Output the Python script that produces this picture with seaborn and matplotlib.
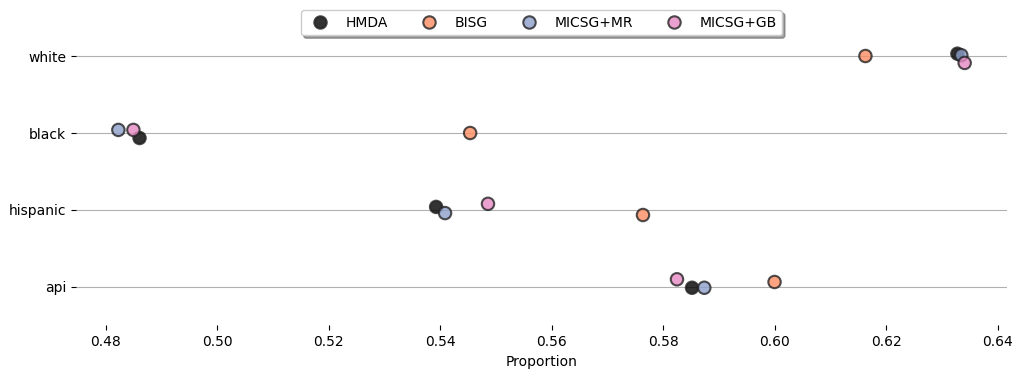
"""Estimated race/ethnicity proportions by method."""

import matplotlib.pyplot as plt
import pandas as pd
import seaborn as sns

races = ["white", "black", "hispanic", "api"]
methods = ["HMDA", "BISG", "MICSG+MR", "MICSG+GB"]

# proportion per race, in the order of `methods`
white_vals = [0.6328, 0.6163, 0.6335, 0.6341]
black_vals = [0.4861, 0.5454, 0.4823, 0.4850]
hispanic_vals = [0.5393, 0.5764, 0.5409, 0.5486]
api_vals = [0.5852, 0.6000, 0.5874, 0.5825]

# vertical jitter (category units)
white_jitter = [-0.03, 0.0, -0.01, 0.09]
black_jitter = [0.065, 0.0, -0.04, -0.04]
hispanic_jitter = [-0.04, 0.065, 0.04, -0.08]
api_jitter = [0.01, -0.065, 0.01, -0.10]

palette = {
    "HMDA": "black",
    "BISG": "#fc8d62",
    "MICSG+MR": "#8da0cb",
    "MICSG+GB": "#e78ac3",
}

rows = []
for race, vals, jit in zip(
    races,
    [white_vals, black_vals, hispanic_vals, api_vals],
    [white_jitter, black_jitter, hispanic_jitter, api_jitter],
):
    for method, v, j in zip(methods, vals, jit):
        rows.append({"race": race, "method": method, "proportion": v, "jitter": j})
df = pd.DataFrame(rows)
df["ypos"] = df["race"].map({r: i for i, r in enumerate(races)}) + df["jitter"]

fig, ax = plt.subplots(figsize=(10.22, 3.79), dpi=100)
fig.subplots_adjust(left=0.0744, right=0.9853, top=0.9538, bottom=0.1412)

sns.scatterplot(
    data=df,
    x="proportion",
    y="ypos",
    hue="method",
    hue_order=methods,
    palette=palette,
    s=80,
    alpha=0.8,
    edgecolor="#222222",
    linewidth=1.5,
    ax=ax,
    zorder=3,
)

ax.set_yticks(range(len(races)))
ax.set_yticklabels(races)
ax.set_ylim(len(races) - 0.5, -0.5)
ax.set_ylabel("")
ax.set_xlabel("Proportion")
ax.grid(axis="y", color="#b0b0b0", linewidth=0.8)
ax.set_axisbelow(True)
sns.despine(ax=ax, left=True, bottom=True)

ax.legend(
    loc="upper center",
    bbox_to_anchor=(0.5, 1.046),
    ncol=4,
    shadow=True,
    fancybox=True,
)

fig.savefig("out.png", dpi=100)
